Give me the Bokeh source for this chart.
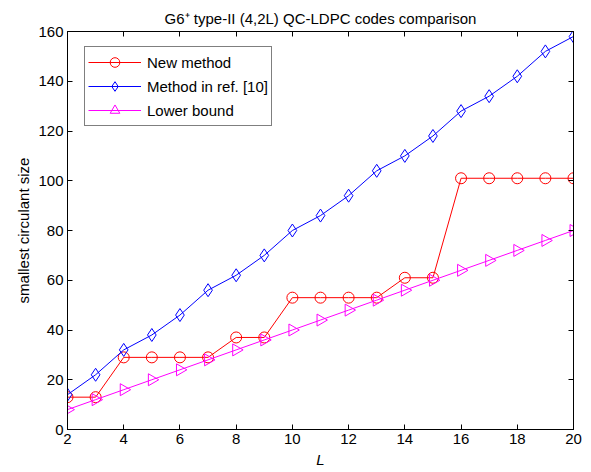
import numpy as np
from bokeh.plotting import figure
from bokeh.models import Range1d, LinearAxis, FixedTicker
from bokeh.embed import file_html
from bokeh.resources import INLINE

# ---- data ----
L_values = [2, 3, 4, 5, 6, 7, 8, 9, 10, 11, 12, 13, 14, 15, 16, 17, 18, 19, 20]
new_method = [13, 13, 29, 29, 29, 29, 37, 37, 53, 53, 53, 53, 61, 61, 101, 101, 101, 101, 101]
method_ref10 = [14, 22, 32, 38, 46, 56, 62, 70, 80, 86, 94, 104, 110, 118, 128, 134, 142, 152, 158]
lower_bound = [8, 12, 16, 20, 24, 28, 32, 36, 40, 44, 48, 52, 56, 60, 64, 68, 72, 76, 80]
x_ticks = [2, 4, 6, 8, 10, 12, 14, 16, 18, 20]
y_ticks = [0, 20, 40, 60, 80, 100, 120, 140, 160]
series_labels = ["New method", "Method in ref. [10]", "Lower bound"]
title_text = "G6\u207a type-II (4,2L) QC-LDPC codes comparison"
x_label = "L"
y_label = "smallest circulant size"

FONT = "Liberation Sans"
FS = "15px"

p = figure(width=591, height=472, x_range=Range1d(2, 20), y_range=Range1d(0, 160),
           output_backend="svg", toolbar_location=None, title=title_text,
           min_border_left=67, min_border_right=18, min_border_top=31, min_border_bottom=43)
p.xgrid.visible = False
p.ygrid.visible = False
p.outline_line_color = "black"
p.background_fill_color = "white"
p.border_fill_color = "white"

p.title.text_font = FONT
p.title.text_font_size = FS
p.title.text_font_style = "normal"
p.title.text_color = "black"
p.title.align = "center"
p.title.standoff = 9


def style_axis(ax, ticks, show_labels=True, standoff=4):
    ax.ticker = FixedTicker(ticks=ticks, minor_ticks=[])
    ax.major_tick_in = 5
    ax.major_tick_out = 0
    ax.minor_tick_in = 0
    ax.minor_tick_out = 0
    ax.axis_line_color = "black"
    ax.major_tick_line_color = "black"
    ax.major_label_text_font = FONT
    ax.major_label_text_font_size = FS
    ax.major_label_text_color = "black"
    ax.major_label_standoff = standoff
    if not show_labels:
        ax.major_label_overrides = {t: "" for t in ticks}
        ax.major_label_text_font_size = "0px"
        ax.major_label_standoff = 0


style_axis(p.xaxis[0], x_ticks, standoff=4)
style_axis(p.yaxis[0], y_ticks, standoff=4)

p.xaxis[0].axis_label = x_label
p.xaxis[0].axis_label_text_font = FONT
p.xaxis[0].axis_label_text_font_size = FS
p.xaxis[0].axis_label_text_font_style = "italic"
p.xaxis[0].axis_label_text_color = "black"
p.xaxis[0].axis_label_standoff = 4

p.yaxis[0].axis_label = y_label
p.yaxis[0].axis_label_text_font = FONT
p.yaxis[0].axis_label_text_font_size = FS
p.yaxis[0].axis_label_text_font_style = "normal"
p.yaxis[0].axis_label_text_color = "black"
p.yaxis[0].axis_label_standoff = 3

top_ax = LinearAxis()
style_axis(top_ax, x_ticks, show_labels=False)
p.add_layout(top_ax, "above")
right_ax = LinearAxis()
style_axis(right_ax, y_ticks, show_labels=False)
p.add_layout(right_ax, "right")

# ---- series ----
colors = ["#ff0000", "#0000ff", "#ff00ff"]
p.line(L_values, new_method, line_color=colors[0], line_width=1, legend_label=series_labels[0])
p.scatter(L_values, new_method, marker="circle", size=11, line_color=colors[0],
          fill_color=None, line_width=1, legend_label=series_labels[0])
p.line(L_values, method_ref10, line_color=colors[1], line_width=1, legend_label=series_labels[1])
p.scatter(L_values, method_ref10, marker="diamond", size=13, line_color=colors[1],
          fill_color=None, line_width=1, legend_label=series_labels[1])
p.line(L_values, lower_bound, line_color=colors[2], line_width=1, legend_label=series_labels[2])
p.scatter(L_values, lower_bound, marker="triangle", size=12, angle=-np.pi / 2,
          line_color=colors[2], fill_color=None, line_width=1, legend_label=series_labels[2])

lg = p.legend[0]
lg.location = (17, 303)
lg.margin = 0
lg.padding = 3
lg.spacing = -3
lg.label_height = 24
lg.glyph_height = 24
lg.glyph_width = 53
lg.label_standoff = 6
lg.label_text_font = FONT
lg.label_text_font_size = FS
lg.label_text_color = "black"
lg.border_line_color = "black"
lg.border_line_width = 1
lg.background_fill_color = "white"
lg.background_fill_alpha = 1.0

open("out.html", "w").write(file_html(p, INLINE))
